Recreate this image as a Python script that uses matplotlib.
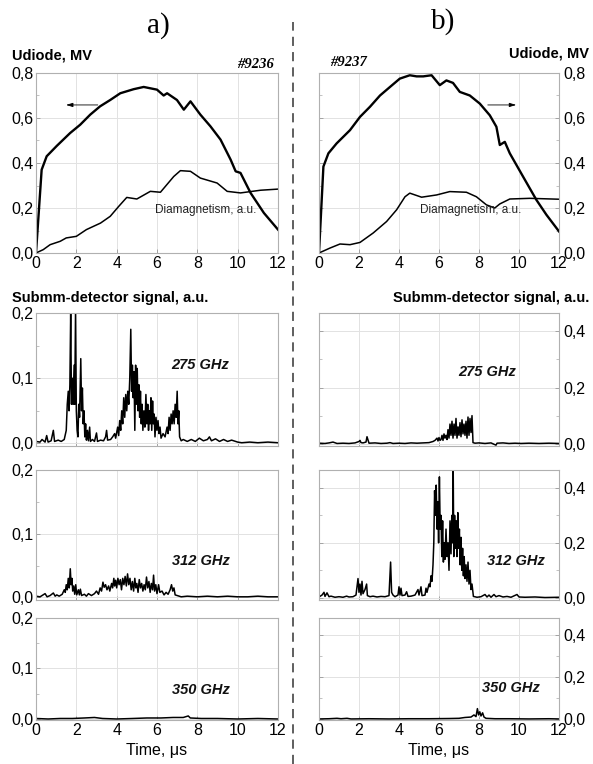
import numpy as np
from matplotlib import pyplot as plt
from matplotlib.ticker import FuncFormatter, MultipleLocator
from matplotlib.lines import Line2D

W, H = 593, 764

# Udiode, MV (shot 9236, panel a)
ud_a = [(0, 0), (0.28, 0.37), (0.53, 0.43), (1.03, 0.476), (1.69, 0.533), (2.19, 0.57),
        (2.69, 0.615), (3.18, 0.652), (3.68, 0.68), (4.18, 0.71), (4.84, 0.728), (5.34, 0.738),
        (6.0, 0.726), (6.33, 0.70), (6.5, 0.71), (6.99, 0.68), (7.33, 0.637), (7.66, 0.674),
        (8.15, 0.615), (8.65, 0.563), (9.15, 0.504), (9.65, 0.415), (9.9, 0.363), (10.14, 0.356),
        (10.64, 0.267), (11.3, 0.178), (12.0, 0.104)]
# diamagnetism, a.u. (panel a)
dia_a = [(0, 0), (0.36, 0.015), (0.7, 0.037), (1.2, 0.052), (1.5, 0.067), (2.0, 0.074),
         (2.5, 0.104), (3.2, 0.133), (3.68, 0.163), (4.1, 0.207), (4.5, 0.247), (5.0, 0.24),
         (5.67, 0.274), (6.17, 0.27), (6.83, 0.34), (7.16, 0.366), (7.66, 0.363), (8.15, 0.333),
         (8.98, 0.311), (9.48, 0.274), (10.14, 0.267), (11.14, 0.279), (12.0, 0.284)]

# Udiode, MV (shot 9237, panel b)
ud_b = [(0, 0), (0.22, 0.384), (0.47, 0.443), (0.88, 0.487), (1.55, 0.546), (2.05, 0.605),
        (2.55, 0.65), (3.05, 0.70), (3.55, 0.738), (4.04, 0.775), (4.54, 0.79), (4.88, 0.785),
        (5.21, 0.785), (5.63, 0.79), (6.04, 0.746), (6.37, 0.767), (6.7, 0.756), (7.04, 0.716),
        (7.54, 0.70), (8.04, 0.664), (8.54, 0.612), (8.87, 0.561), (9.04, 0.48), (9.29, 0.494),
        (9.54, 0.443), (10.2, 0.34), (10.87, 0.236), (11.37, 0.17), (12.0, 0.096)]
dia_b = [(0, 0), (0.55, 0.022), (1.05, 0.04), (1.55, 0.037), (2.05, 0.047), (2.71, 0.089),
         (3.38, 0.14), (3.88, 0.192), (4.3, 0.25), (4.54, 0.266), (5.13, 0.248), (5.88, 0.258),
         (6.54, 0.273), (7.37, 0.27), (7.87, 0.25), (8.37, 0.214), (8.79, 0.20), (9.04, 0.218),
         (9.54, 0.24), (10.54, 0.243), (12.0, 0.239)]

# submm detector signals, a.u.
sig_a275 = [(0, 0.003), (0.2, 0.002), (0.3, 0.006), (0.45, 0.002), (0.53, 0.012), (0.6, 0.002),
            (0.75, 0.004), (0.86, 0.02), (0.92, 0.003), (1.1, 0.005), (1.25, 0.003), (1.4, 0.006),
            (1.5, 0.02), (1.55, 0.06), (1.6, 0.08), (1.64, 0.05), (1.68, 0.09), (1.72, 0.2),
            (1.76, 0.06), (1.8, 0.1), (1.84, 0.06), (1.89, 0.12), (1.92, 0.06), (1.96, 0.2),
            (2.0, 0.05), (2.04, 0.02), (2.08, 0.01), (2.12, 0.06), (2.16, 0.04), (2.22, 0.13),
            (2.26, 0.05), (2.3, 0.085), (2.34, 0.03), (2.38, 0.05), (2.42, 0.01), (2.46, 0.03),
            (2.5, 0.005), (2.55, 0.02), (2.6, 0.004), (2.66, 0.025), (2.7, 0.003), (2.8, 0.006),
            (2.9, 0.003), (3.0, 0.016), (3.05, 0.003), (3.2, 0.005), (3.35, 0.004), (3.45, 0.01),
            (3.5, 0.02), (3.55, 0.005), (3.7, 0.006), (3.8, 0.01), (3.9, 0.015), (3.95, 0.008),
            (4.05, 0.025), (4.1, 0.012), (4.15, 0.035), (4.2, 0.02), (4.25, 0.05), (4.3, 0.03),
            (4.35, 0.07), (4.4, 0.04), (4.45, 0.075), (4.5, 0.05), (4.55, 0.08), (4.6, 0.06),
            (4.65, 0.1), (4.7, 0.175), (4.74, 0.08), (4.78, 0.12), (4.82, 0.07), (4.86, 0.11),
            (4.9, 0.02), (4.94, 0.12), (4.98, 0.06), (5.02, 0.115), (5.06, 0.05), (5.1, 0.09),
            (5.14, 0.04), (5.18, 0.08), (5.22, 0.03), (5.26, 0.06), (5.3, 0.02), (5.35, 0.05),
            (5.4, 0.025), (5.45, 0.075), (5.5, 0.03), (5.54, 0.06), (5.58, 0.02), (5.62, 0.05),
            (5.66, 0.03), (5.7, 0.07), (5.74, 0.02), (5.78, 0.065), (5.82, 0.03), (5.86, 0.045),
            (5.9, 0.01), (5.95, 0.04), (6.0, 0.02), (6.05, 0.035), (6.1, 0.015), (6.15, 0.025),
            (6.2, 0.008), (6.3, 0.015), (6.4, 0.01), (6.5, 0.025), (6.55, 0.015), (6.6, 0.04),
            (6.65, 0.02), (6.7, 0.045), (6.75, 0.03), (6.8, 0.05), (6.85, 0.03), (6.9, 0.06),
            (6.95, 0.04), (7.0, 0.08), (7.04, 0.03), (7.08, 0.05), (7.12, 0.01), (7.2, 0.004),
            (7.3, 0.006), (7.5, 0.003), (7.7, 0.006), (7.9, 0.003), (8.1, 0.008), (8.3, 0.004),
            (8.5, 0.006), (8.6, 0.01), (8.7, 0.004), (8.9, 0.007), (9.1, 0.003), (9.3, 0.006),
            (9.5, 0.003), (9.7, 0.005), (10.0, 0.002), (10.2, 0.001), (10.6, 0.002), (11.0, 0.001),
            (11.5, 0.002), (12.0, 0.001)]
sig_a312 = [(0, 0.002), (0.2, 0.001), (0.35, 0.004), (0.45, 0.006), (0.55, 0.001), (0.7, 0.003),
            (0.86, 0.007), (0.95, 0.002), (1.03, 0.004), (1.15, 0.002), (1.3, 0.005), (1.4, 0.012),
            (1.45, 0.008), (1.5, 0.02), (1.55, 0.012), (1.6, 0.03), (1.65, 0.015), (1.7, 0.045),
            (1.74, 0.02), (1.78, 0.03), (1.82, 0.01), (1.87, 0.018), (1.92, 0.005), (1.97, 0.02),
            (2.02, 0.004), (2.1, 0.012), (2.15, 0.004), (2.2, 0.013), (2.26, 0.003), (2.4, 0.005),
            (2.5, 0.002), (2.6, 0.006), (2.75, 0.003), (2.9, 0.006), (3.0, 0.01), (3.1, 0.005),
            (3.18, 0.015), (3.25, 0.01), (3.32, 0.024), (3.38, 0.016), (3.45, 0.02), (3.52, 0.012),
            (3.6, 0.018), (3.66, 0.01), (3.75, 0.022), (3.8, 0.015), (3.86, 0.03), (3.9, 0.018),
            (3.95, 0.027), (4.0, 0.015), (4.06, 0.03), (4.12, 0.02), (4.18, 0.028), (4.24, 0.012),
            (4.3, 0.03), (4.36, 0.02), (4.42, 0.033), (4.48, 0.018), (4.54, 0.037), (4.6, 0.02),
            (4.66, 0.03), (4.72, 0.012), (4.78, 0.025), (4.84, 0.01), (4.9, 0.03), (4.95, 0.015),
            (5.0, 0.022), (5.06, 0.008), (5.12, 0.028), (5.18, 0.015), (5.24, 0.022), (5.3, 0.01),
            (5.36, 0.02), (5.42, 0.012), (5.48, 0.032), (5.54, 0.015), (5.6, 0.025), (5.66, 0.008),
            (5.72, 0.022), (5.78, 0.012), (5.83, 0.035), (5.88, 0.01), (5.94, 0.02), (6.0, 0.006),
            (6.08, 0.02), (6.14, 0.008), (6.25, 0.01), (6.35, 0.004), (6.45, 0.008), (6.55, 0.005),
            (6.65, 0.012), (6.72, 0.02), (6.78, 0.01), (6.84, 0.015), (6.9, 0.004), (7.0, 0.003),
            (7.2, 0.001), (7.5, 0.002), (8.0, 0.001), (8.5, 0.002), (9.0, 0.001), (9.5, 0.002),
            (10.0, 0.001), (10.5, 0.001), (11.0, 0.002), (11.5, 0.001), (12.0, 0.001)]
sig_a350 = [(0, 0.001), (0.6, 0.0), (1.2, 0.001), (1.8, 0.001), (2.4, 0.002), (2.9, 0.003),
            (3.3, 0.001), (4.0, 0.0), (4.8, 0.001), (5.5, 0.002), (6.2, 0.002), (6.8, 0.003),
            (7.3, 0.003), (7.55, 0.006), (7.65, 0.002), (8.2, 0.001), (9.0, 0.001), (10.0, 0.0),
            (11.0, 0.001), (12.0, 0.0)]

sig_b275 = [(0, 0.002), (0.3, 0.001), (0.5, 0.003), (0.7, 0.006), (0.9, 0.001), (1.2, 0.002),
            (1.5, 0.001), (1.8, 0.003), (2.0, 0.008), (2.05, 0.012), (2.1, 0.004), (2.2, 0.003),
            (2.35, 0.006), (2.4, 0.025), (2.5, 0.002), (2.8, 0.003), (3.1, 0.001), (3.4, 0.002),
            (3.55, 0.004), (3.7, 0.001), (4.0, 0.002), (4.3, 0.001), (4.6, 0.003), (4.9, 0.002),
            (5.2, 0.003), (5.5, 0.004), (5.7, 0.008), (5.8, 0.012), (5.9, 0.02), (5.95, 0.01),
            (6.0, 0.022), (6.05, 0.012), (6.1, 0.015), (6.15, 0.03), (6.2, 0.012), (6.25, 0.035),
            (6.3, 0.02), (6.35, 0.03), (6.4, 0.015), (6.45, 0.05), (6.5, 0.02), (6.55, 0.07),
            (6.6, 0.03), (6.65, 0.08), (6.7, 0.02), (6.75, 0.07), (6.8, 0.03), (6.85, 0.09),
            (6.9, 0.02), (6.95, 0.06), (7.0, 0.03), (7.05, 0.075), (7.1, 0.025), (7.15, 0.085),
            (7.2, 0.035), (7.25, 0.07), (7.3, 0.03), (7.35, 0.08), (7.4, 0.02), (7.45, 0.095),
            (7.5, 0.03), (7.55, 0.09), (7.6, 0.04), (7.65, 0.1), (7.7, 0.004), (7.8, 0.002),
            (8.0, 0.003), (8.3, 0.001), (8.6, 0.003), (8.85, -0.005), (8.9, 0.002), (9.2, 0.003),
            (9.5, 0.001), (9.8, 0.002), (10.1, 0.001), (10.5, 0.002), (11.0, 0.001), (11.5, 0.002),
            (12.0, 0.001)]
sig_b312 = [(0, 0.003), (0.15, 0.01), (0.25, 0.02), (0.3, 0.005), (0.4, 0.018), (0.5, 0.004),
            (0.6, 0.006), (0.8, 0.002), (1.0, 0.004), (1.2, 0.002), (1.38, 0.006), (1.5, 0.003),
            (1.7, 0.004), (1.85, 0.01), (1.95, 0.07), (2.0, 0.02), (2.05, 0.05), (2.1, 0.01),
            (2.15, 0.06), (2.2, 0.015), (2.3, 0.03), (2.38, 0.05), (2.42, 0.008), (2.55, 0.004),
            (2.7, 0.006), (2.9, 0.003), (3.1, 0.005), (3.3, 0.004), (3.5, 0.008), (3.58, 0.13),
            (3.63, 0.02), (3.7, 0.01), (3.8, 0.004), (3.95, 0.01), (4.0, 0.04), (4.05, 0.01),
            (4.1, 0.035), (4.15, 0.008), (4.3, 0.01), (4.38, 0.022), (4.45, 0.005), (4.6, 0.006),
            (4.8, 0.01), (4.95, 0.03), (5.0, 0.01), (5.1, 0.04), (5.15, 0.008), (5.3, 0.01),
            (5.35, 0.035), (5.4, 0.02), (5.5, 0.05), (5.55, 0.04), (5.6, 0.08), (5.65, 0.06),
            (5.7, 0.12), (5.74, 0.2), (5.78, 0.39), (5.82, 0.3), (5.86, 0.41), (5.9, 0.25),
            (5.94, 0.35), (5.98, 0.2), (6.02, 0.44), (6.06, 0.25), (6.1, 0.3), (6.14, 0.15),
            (6.18, 0.28), (6.22, 0.13), (6.26, 0.2), (6.3, 0.14), (6.35, 0.25), (6.4, 0.15),
            (6.45, 0.2), (6.5, 0.1), (6.55, 0.28), (6.6, 0.16), (6.64, 0.3), (6.68, 0.2),
            (6.71, 0.47), (6.74, 0.15), (6.78, 0.3), (6.82, 0.18), (6.86, 0.28), (6.9, 0.15),
            (6.94, 0.31), (6.98, 0.18), (7.02, 0.25), (7.06, 0.12), (7.1, 0.22), (7.14, 0.1),
            (7.18, 0.18), (7.22, 0.08), (7.26, 0.15), (7.3, 0.07), (7.35, 0.12), (7.4, 0.06),
            (7.45, 0.13), (7.5, 0.05), (7.55, 0.1), (7.6, 0.03), (7.65, 0.05), (7.72, 0.005),
            (7.9, 0.002), (8.1, 0.004), (8.3, 0.012), (8.4, 0.003), (8.5, 0.01), (8.6, 0.002),
            (8.75, 0.012), (8.85, 0.004), (9.0, 0.008), (9.2, 0.003), (9.4, 0.005), (9.6, 0.002),
            (9.9, 0.012), (10.0, 0.003), (10.3, 0.002), (10.8, 0.003), (11.3, 0.001), (12.0, 0.002)]
sig_b350 = [(0, 0.001), (0.5, 0.002), (0.9, 0.004), (1.1, 0.002), (1.4, 0.004), (1.6, 0.001),
            (2.5, 0.002), (3.5, 0.001), (4.5, 0.002), (5.5, 0.002), (6.5, 0.003), (7.0, 0.004),
            (7.3, 0.008), (7.6, 0.01), (7.75, 0.02), (7.85, 0.012), (7.92, 0.05), (7.98, 0.02),
            (8.04, 0.035), (8.1, 0.015), (8.18, 0.03), (8.25, 0.01), (8.35, 0.004), (8.8, 0.002),
            (9.5, 0.002), (10.5, 0.001), (11.5, 0.002), (12.0, 0.001)]

freqs = ['275 GHz', '312 GHz', '350 GHz']

plt.rcParams['font.family'] = ['Liberation Sans', 'DejaVu Sans']

fig = plt.figure(figsize=(W / 100, H / 100), dpi=100)


def box(x0, x1, ytop, ybot):
    return [x0 / W, 1 - ybot / H, (x1 - x0) / W, (ybot - ytop) / H]


comma = FuncFormatter(lambda v, _: ('%.1f' % v).replace('.', ','))


def style(ax, right, ylim, ystep, xlabels):
    ax.set_xlim(0, 12)
    ax.set_ylim(*ylim)
    ax.xaxis.set_major_locator(MultipleLocator(2))
    ax.yaxis.set_major_locator(MultipleLocator(ystep))
    ax.yaxis.set_minor_locator(MultipleLocator(ystep / 2))
    ax.yaxis.set_major_formatter(comma)
    ax.grid(True, color='#e2e2e2', lw=0.7)
    for s in ax.spines.values():
        s.set_color('#b0b0b0')
        s.set_linewidth(0.8)
    ax.tick_params(direction='in', length=3, width=0.6, color='#999999', labelsize=11.5, pad=2)
    ax.tick_params(which='minor', direction='in', length=2, width=0.5, color='#aaaaaa')
    if right:
        ax.yaxis.tick_right()
        ax.yaxis.set_label_position('right')
        ax.tick_params(axis='y', which='both', left=True, pad=3)
    if not xlabels:
        ax.tick_params(axis='x', labelbottom=False)


def xy(pairs):
    a = np.array(pairs)
    return a[:, 0], a[:, 1]


cols = [(36, 278, False, ud_a, dia_a, [sig_a275, sig_a312, sig_a350], (-0.004, 0.2), 0.1),
        (319, 559, True, ud_b, dia_b, [sig_b275, sig_b312, sig_b350], (-0.008, 0.465), 0.2)]
rows = [(313, 446), (470, 600), (618, 720)]
# label positions (axes fraction) per column
lab_pos = [[(0.68, 0.61), (0.68, 0.30), (0.68, 0.29)],
           [(0.70, 0.555), (0.82, 0.30), (0.80, 0.31)]]

for c, (x0, x1, right, ud, dia, sigs, slim, sstep) in enumerate(cols):
    ax = fig.add_axes(box(x0, x1, 73, 253))
    style(ax, right, (0, 0.8), 0.2, True)
    ax.yaxis.set_minor_locator(MultipleLocator(0.1))
    t, v = xy(ud)
    ax.plot(t, v, color='black', lw=1.7)
    t, v = xy(dia)
    ax.plot(t, v, color='black', lw=1.1)
    ax.text(8.4 if not right else 7.6, 0.19, 'Diamagnetism, a.u.', ha='center', va='center',
            fontsize=8.5, color='#222222')
    if right:
        ax.annotate('', xy=(10.0, 0.658), xytext=(8.3, 0.658),
                    arrowprops=dict(arrowstyle='-|>,head_length=0.4,head_width=0.12', lw=0.6, color='k'))
    else:
        ax.annotate('', xy=(1.35, 0.658), xytext=(3.2, 0.658),
                    arrowprops=dict(arrowstyle='-|>,head_length=0.4,head_width=0.12', lw=0.6, color='k'))

    for i, (yt, yb) in enumerate(rows):
        ax = fig.add_axes(box(x0, x1, yt, yb))
        lim = slim if i < 2 else (slim[0] * 0.5, slim[1] if not right else 0.48)
        style(ax, right, lim, sstep, i == 2)
        if not right:
            ax.yaxis.set_minor_locator(MultipleLocator(0.05))
        t, v = xy(sigs[i])
        ax.plot(t, v, color='black', lw=1.1)
        lx, ly = lab_pos[c][i]
        ax.text(lx, ly, freqs[i], transform=ax.transAxes, ha='center', va='center',
                fontsize=10.5, fontweight='bold', fontstyle='italic', color='#111111')
        if i == 2:
            ax.set_xlabel('Time, \u03bcs', fontsize=11.5, labelpad=4)


def ftext(x, y, s, **kw):
    fig.text(x / W, 1 - y / H, s, **kw)


ftext(158, 26, 'a)', fontsize=21, family='Liberation Serif', ha='center', va='center')
ftext(443, 22, 'b)', fontsize=21, family='Liberation Serif', ha='center', va='center')
ftext(12, 55, 'Udiode, MV', fontsize=10.5, fontweight='bold', ha='left', va='center')
ftext(589, 53, 'Udiode, MV', fontsize=10.5, fontweight='bold', ha='right', va='center')
ftext(274, 65, '#9236', fontsize=10.5, family='Liberation Serif', fontweight='bold',
      fontstyle='italic', ha='right', va='center')
ftext(330, 63, '#9237', fontsize=10.5, family='Liberation Serif', fontweight='bold',
      fontstyle='italic', ha='left', va='center')
ftext(12, 298, 'Submm-detector signal, a.u.', fontsize=10.5, fontweight='bold', ha='left', va='center')
ftext(589, 298, 'Submm-detector signal, a.u.', fontsize=10.5, fontweight='bold', ha='right', va='center')

fig.add_artist(Line2D([293 / W, 293 / W], [0, 1 - 22 / H], transform=fig.transFigure,
                      color='#333333', lw=1.1, ls=(0, (6, 4))))

fig.savefig('out.png', dpi=100)
